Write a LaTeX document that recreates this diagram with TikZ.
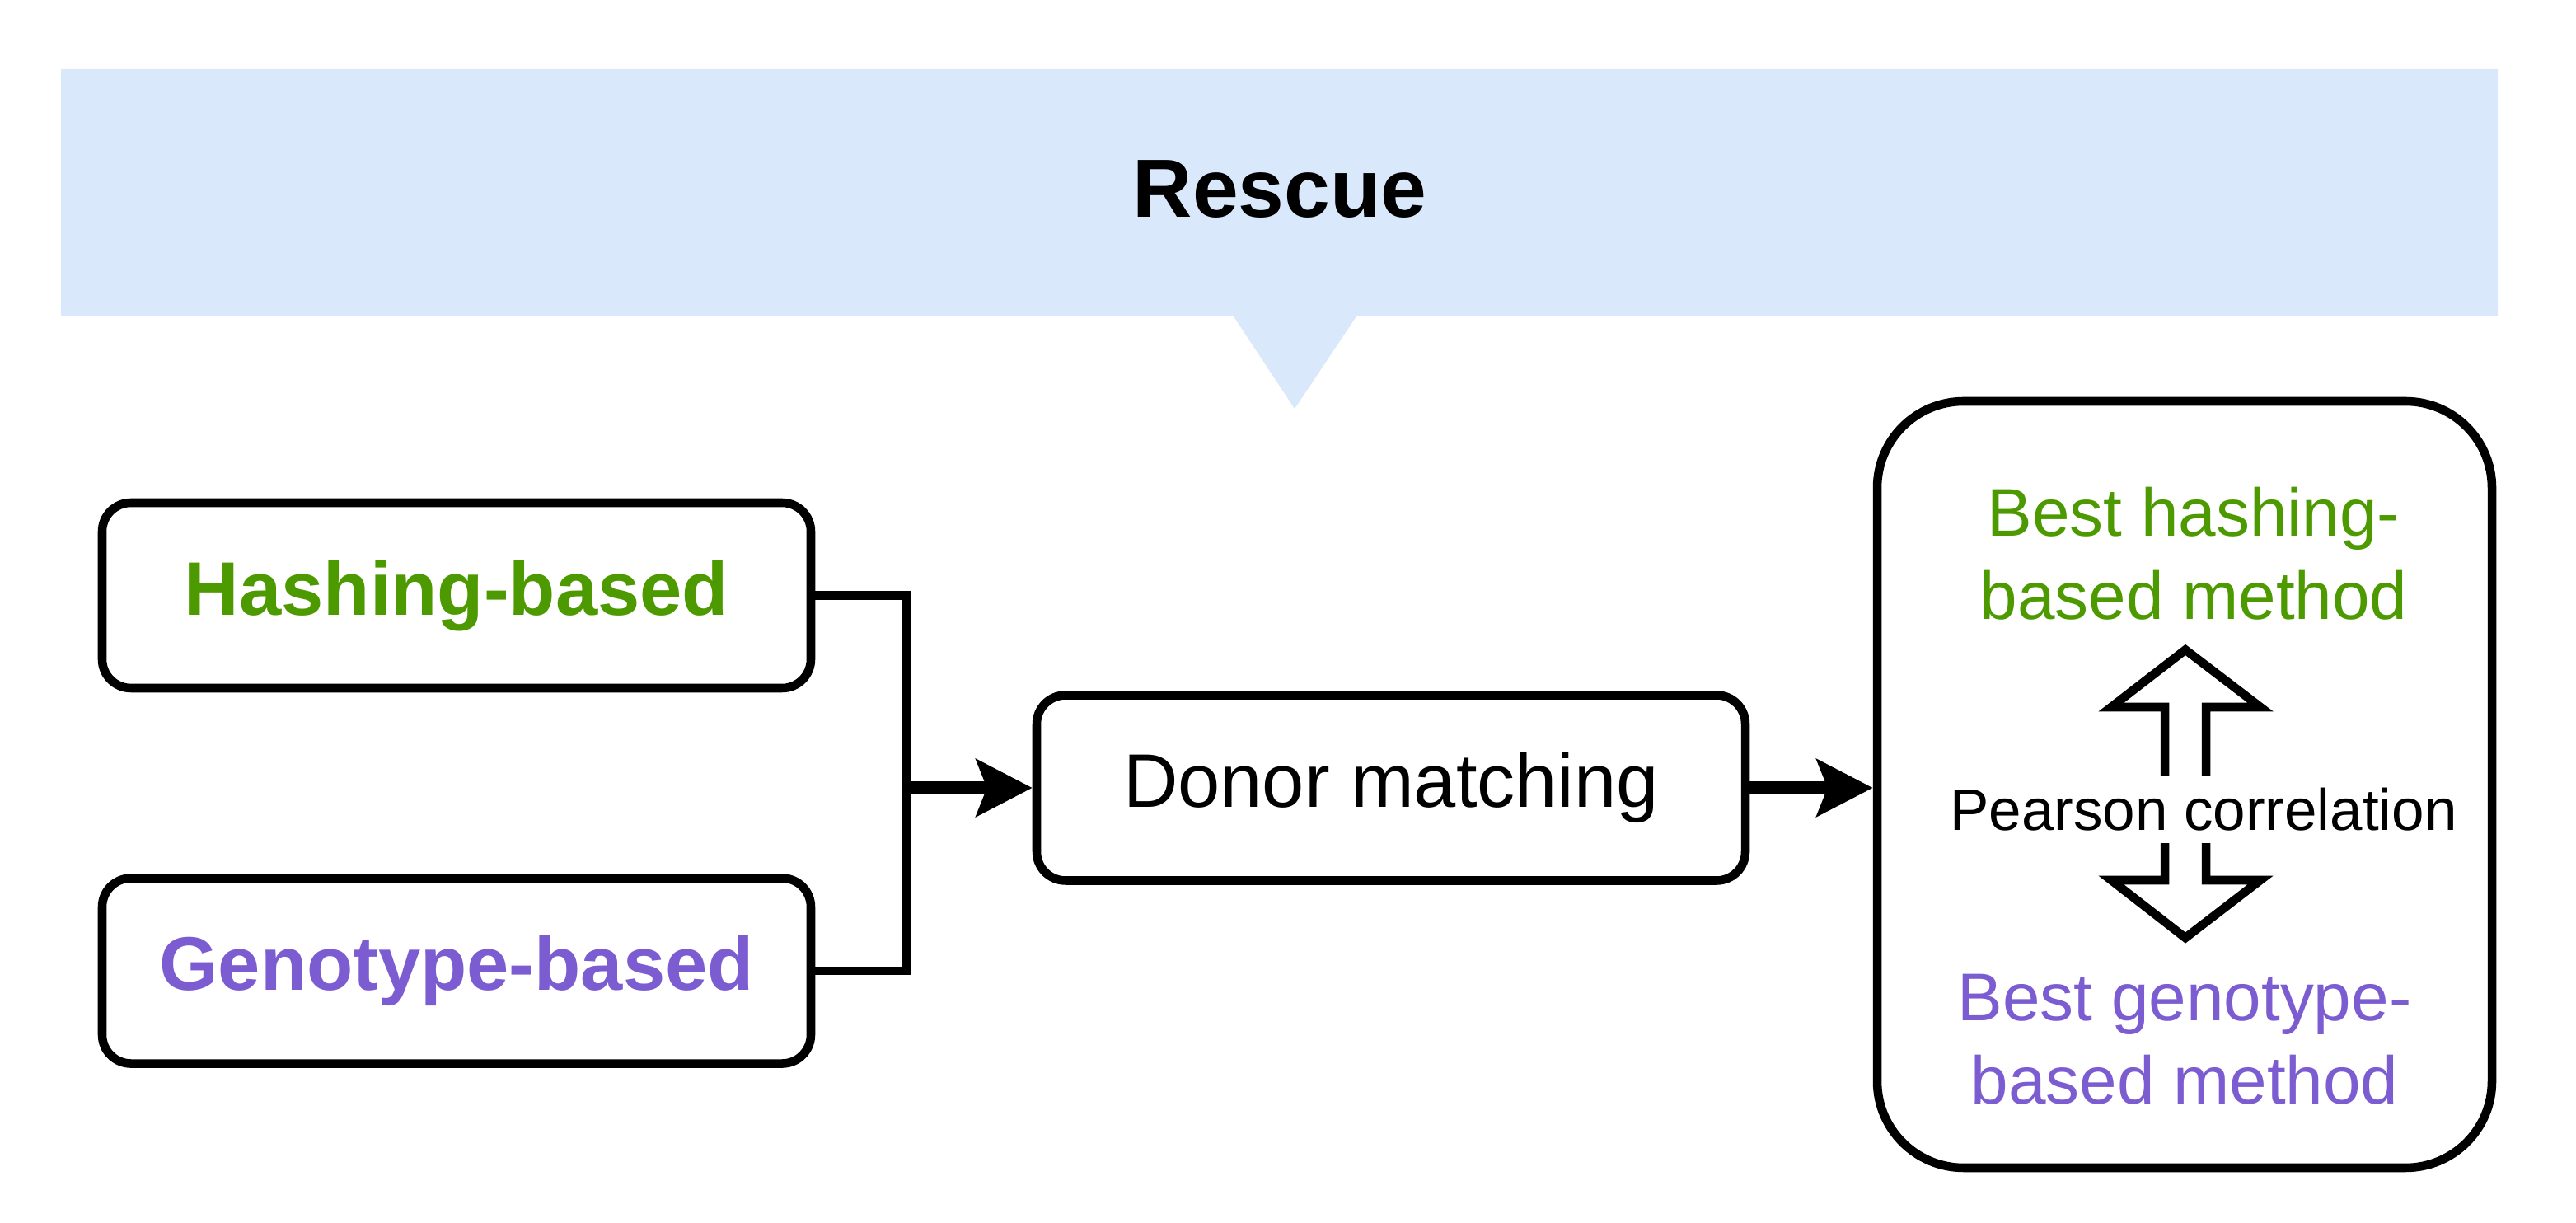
\documentclass[tikz,border=0pt]{standalone}
\usepackage{fontspec}
\setmainfont{Liberation Sans}
\usetikzlibrary{arrows.meta,calc,positioning}
\definecolor{hashgreen}{HTML}{4D9900}
\definecolor{genopurple}{HTML}{7B5CD1}
\definecolor{rescueblue}{HTML}{DAE8FC}
\tikzset{
block/.style={
  rectangle,
  draw,
  line width=3pt,
  rounded corners=0.35cm,
  minimum width=8.6cm,
  minimum height=2.25cm,
  font=\fontsize{26.2}{31}\selectfont},
result/.style={
  rectangle,
  draw,
  line width=3pt,
  rounded corners=1.05cm,
  minimum width=7.46cm,
  minimum height=9.3cm},
besttext/.style={
  align=center,
  font=\fontsize{23.3}{28.75}\selectfont},
line/.style={draw, line width=4.3pt, -{Stealth[length=0.68cm, width=0.69cm, inset=0.13cm]}},
edge/.style={draw, line width=3pt}
}
\begin{document}
\begin{tikzpicture}
    \path[use as bounding box, fill=white] (0,0) rectangle (31.26,14.84);
    \fill[rescueblue] (0.74,14.00) -- (30.31,14.00) -- (30.31,11.00) -- (16.46,11.00) %
      -- (15.71,9.88) -- (14.97,11.00) -- (0.74,11.00) -- cycle;
    \node[font=\fontsize{28.5}{34}\selectfont\bfseries] (rescue) at (15.53,12.54) {Rescue};
    \node [block, text=hashgreen, font=\fontsize{26.2}{31}\selectfont\bfseries] (hash) at (5.54,7.615) {Hashing-based};
    \node [block, text=genopurple, font=\fontsize{26.2}{31}\selectfont\bfseries, below=2.2cm of hash] (geno) {Genotype-based};
    \node [block] (donor) at (16.88,5.28) {Donor matching};
    \node [result] (best) at (26.51,5.32) {};
    \node [besttext, text=hashgreen] (besthash) at (26.62,8.12) {Best hashing-\\based method};
    \node [besttext, text=genopurple] (bestgeno) at (26.51,2.23) {Best genotype-\\based method};
    \coordinate (merge) at (11.0,5.28);
    \path [edge] (hash.east) -| (merge);
    \path [edge] (geno.east) -| (merge);
    \path [line] (merge) -- (donor.west);
    \path [line] (donor.east) -- (donor.east -| best.west);
    \draw[line width=3pt] (26.52,6.955) -- (27.43,6.26) -- (26.77,6.26) -- (26.77,4.16) -- (27.43,4.16) %
      -- (26.52,3.46) -- (25.62,4.16) -- (26.27,4.16) -- (26.27,6.26) -- (25.62,6.26) -- cycle;
    \node[fill=white, inner xsep=0.05cm, inner ysep=0.15cm, font=\fontsize{20.2}{24}\selectfont] (pearson) at (26.74,5.02) {Pearson correlation};
\end{tikzpicture}
\end{document}
